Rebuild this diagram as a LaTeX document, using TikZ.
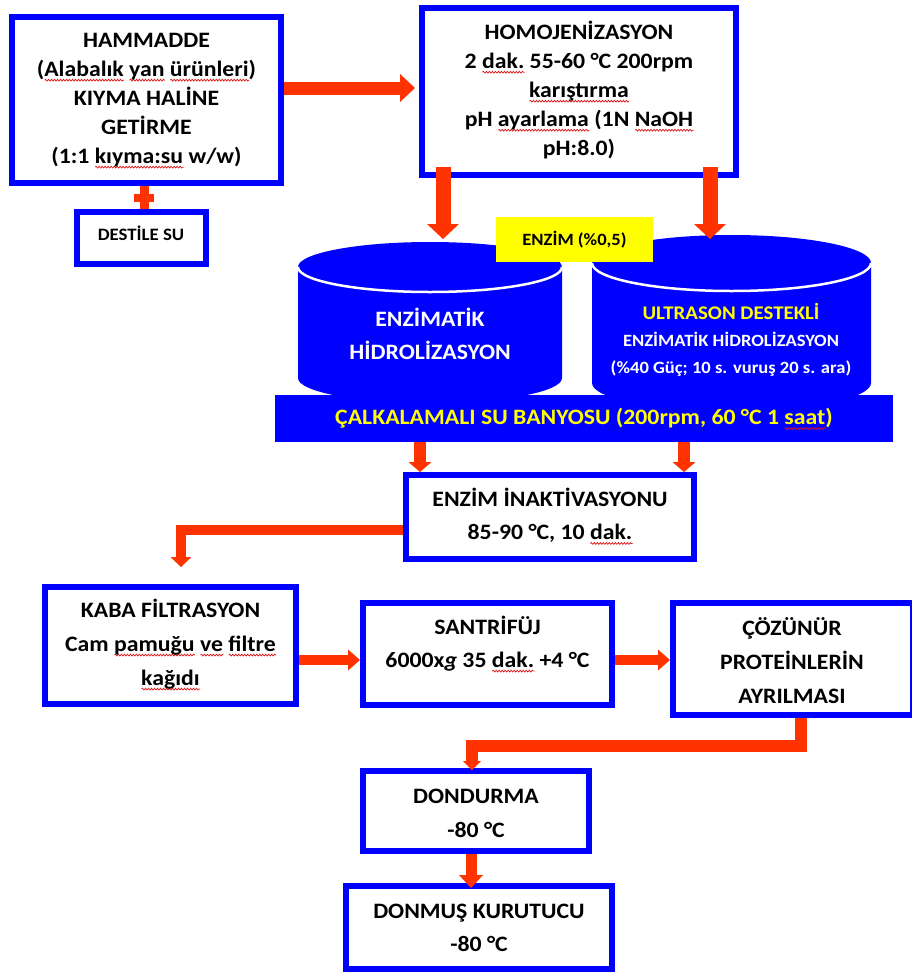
\documentclass[tikz,border=0pt]{standalone}
\usepackage{fontspec}
\setmainfont{Carlito}[FakeStretch=1.08]
\usetikzlibrary{arrows.meta,calc,decorations.pathmorphing}
\definecolor{boxblue}{RGB}{0,0,255}
\definecolor{arrred}{RGB}{255,51,0}
\definecolor{ylw}{RGB}{255,255,0}
\definecolor{sqred}{RGB}{225,20,20}
\newdimen\sqwd
\newsavebox\sqbox
\newcommand\sq[1]{\sbox\sqbox{#1}\sqwd=\wd\sqbox\rlap{\raisebox{-5pt}[0pt][0pt]{\tikz[x=1pt,y=1pt]\draw[sqred,line width=0.7pt,decorate,decoration={snake,amplitude=0.9pt,segment length=3pt}] (0,0) -- (\sqwd,0);}}\usebox\sqbox}
\begin{document}
\begin{tikzpicture}[x=1pt,y=-1pt,
  box/.style={draw=boxblue,line width=6pt,fill=white,inner sep=0pt},
  lbl/.style={align=center,inner sep=0pt,font=\bfseries\fontsize{22}{29}\selectfont},
  arr/.style n args={3}{draw=arrred,line width=#1,-{Triangle[width=#2,length=#3,line width=0pt]}},
  plusbar/.style={draw=arrred,line width=#1},
]
\useasboundingbox (0,0) rectangle (911,972);

% boxes
\node[box,minimum width=269pt,minimum height=166pt] (hammadde) at (146.5,100) {};
\node[box,minimum width=129pt,minimum height=52pt] (destile) at (141.5,238) {};
\node[box,minimum width=314pt,minimum height=167pt] (homo) at (579,91.5) {};
\node[box,minimum width=288pt,minimum height=84pt] (inakt) at (550,517) {};
\node[box,minimum width=251pt,minimum height=117pt] (kaba) at (170.5,645.5) {};
\node[box,minimum width=249pt,minimum height=102pt] (santri) at (487.5,654) {};
\node[box,minimum width=240pt,minimum height=112pt] (cozunur) at (793,659) {};
\node[box,minimum width=226pt,minimum height=80pt] (dondurma) at (476,811) {};
\node[box,minimum width=266pt,minimum height=83pt] (donmus) at (479,927.5) {};

% texts
\node[lbl] (hammaddeT) at (146.5,100) {HAMMADDE\\(\sq{Alabalık} \sq{yan} \sq{ürünleri})\\KIYMA HALİNE\\GETİRME\\(1:1 \sq{kıyma:su} w/w)};
\node[lbl,font=\bfseries\fontsize{17.4}{20}\selectfont] (destileT) at (141,233) {DESTİLE SU};
\node[lbl] (homoT) at (579,90) {HOMOJENİZASYON\\2 \sq{dak.} 55-60 °C 200rpm\\\sq{karıştırma}\\pH \sq{ayarlama} (1N \sq{NaOH}\\pH:8.0)};
\node[lbl,font=\bfseries\fontsize{22}{33}\selectfont] (inaktT) at (550,515.5) {ENZİM İNAKTİVASYONU\\85-90 °C, 10 \sq{dak.}};
\node[lbl,font=\bfseries\fontsize{22}{34}\selectfont] (kabaT) at (170.5,644) {KABA FİLTRASYON\\Cam \sq{pamuğu} \sq{ve} \sq{filtre}\\\sq{kağıdı}};
\node[lbl,font=\bfseries\fontsize{22}{33}\selectfont] (santriT) at (487.5,643.5) {SANTRİFÜJ\\6000x\textit{g} 35 \sq{dak.} +4 °C};
\node[lbl,font=\bfseries\fontsize{22}{34}\selectfont] (cozT) at (792,661) {ÇÖZÜNÜR\\PROTEİNLERİN\\AYRILMASI};
\node[lbl,font=\bfseries\fontsize{22}{34}\selectfont] (dondT) at (476,813) {DONDURMA\\-80 °C};
\node[lbl,font=\bfseries\fontsize{22}{33}\selectfont] (donmT) at (479,927.5) {DONMUŞ KURUTUCU\\-80 °C};

% cylinders
\fill[boxblue] (298,267) arc[start angle=180,end angle=360,x radius=132,y radius=25]
  -- (562,378) arc[start angle=0,end angle=180,x radius=132,y radius=25] -- cycle;
\draw[white,line width=2.5pt] (298,267) arc[start angle=180,end angle=0,x radius=132,y radius=25];
\fill[boxblue] (592,263) arc[start angle=180,end angle=360,x radius=139.5,y radius=28]
  -- (871,383) arc[start angle=0,end angle=180,x radius=139.5,y radius=28] -- cycle;
\draw[white,line width=2.5pt] (592,263) arc[start angle=180,end angle=0,x radius=139.5,y radius=28];
\node[lbl,text=white,font=\bfseries\fontsize{22}{33}\selectfont] (cylLT) at (430,333.5) {ENZİMATİK\\HİDROLİZASYON};
\node[lbl,text=white,font=\bfseries\fontsize{17.2}{27}\selectfont] (cylRT) at (731,340) {{\color{ylw}\fontsize{19.3}{27}\selectfont ULTRASON DESTEKLİ}\\ENZİMATİK HİDROLİZASYON\\(\%40 Güç; 10 s. vuruş 20 s. ara)};
\coordinate (cylLin) at (443,239);
\coordinate (cylRin) at (710,239);

% enzyme label
\node[fill=ylw,minimum width=157pt,minimum height=45pt,inner sep=0pt,font=\bfseries\fontsize{17.2}{22}\selectfont] (enzim) at (574.5,239.5) {ENZİM (\%0,5)};

% water bath
\node[fill=boxblue,minimum width=618pt,minimum height=47pt,inner sep=0pt,text=ylw,font=\bfseries\fontsize{22}{26}\selectfont] (bath) at (584,418.5) {ÇALKALAMALI SU BANYOSU (200rpm, 60 °C 1 \sq{saat})};

% plus sign
\draw[plusbar=9pt] (hammadde.south -| 144.5,0) -- (destile.north -| 144.5,0);
\draw[plusbar=8pt] (134,198) -- (154,198);

% arrows
\draw[arr={13pt}{28pt}{15pt}] (hammadde.east |- 0,88) -- ($(homo.west |- 0,88)+(-4,0)$);
\draw[arr={15pt}{32pt}{15pt}] ($(homo.south -| 443,0)+(0,-11)$) -- (cylLin);
\draw[arr={15pt}{32pt}{15pt}] ($(homo.south -| 710,0)+(0,-11)$) -- (cylRin);
\draw[arr={12pt}{23pt}{10pt}] (bath.south -| 420,0) -- (inakt.north -| 420,0);
\draw[arr={12pt}{23pt}{10pt}] (bath.south -| 684,0) -- (inakt.north -| 684,0);
\coordinate (kabaIn) at (181,567);
\draw[arr={10pt}{21pt}{10pt}] (inakt.west |- 0,530) -| (kabaIn);
\draw[arr={10pt}{21pt}{12pt}] (kaba.east |- 0,660) -- (santri.west |- 0,660);
\draw[arr={10pt}{21pt}{12pt}] (santri.east |- 0,660) -- (cozunur.west |- 0,660);
\draw[arr={12pt}{18pt}{9pt}] (cozunur.south -| 801,0) -- (801,746) -| ($(dondurma.north -| 472,0)+(0,2)$);
\draw[arr={11pt}{24pt}{13pt}] (dondurma.south -| 471,0) -- ($(donmus.north -| 471,0)+(0,5)$);
\end{tikzpicture}
\end{document}
